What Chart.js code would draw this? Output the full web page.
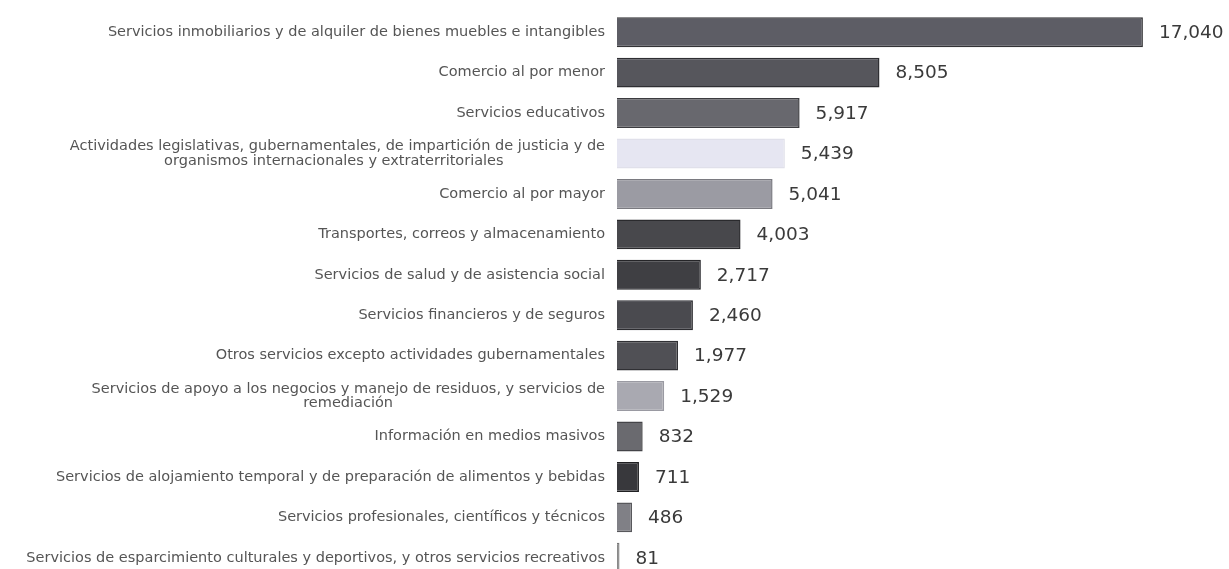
<!DOCTYPE html>
<html>
<head>
<meta charset="utf-8">
<script src="https://cdn.jsdelivr.net/npm/chart.js@4.4.1/dist/chart.umd.min.js"></script>
<style>
    html, body { margin: 0; padding: 0; background: #fff; overflow: hidden; }
    canvas { display: block; }
</style>
</head>
<body>
<canvas id="myChart" width="1229" height="582"></canvas>
<script>
const sectores = [
    "Servicios inmobiliarios y de alquiler de bienes muebles e intangibles",
    "Comercio al por menor",
    "Servicios educativos",
    ["Actividades legislativas, gubernamentales, de impartición de justicia y de", "organismos internacionales y extraterritoriales"],
    "Comercio al por mayor",
    "Transportes, correos y almacenamiento",
    "Servicios de salud y de asistencia social",
    "Servicios financieros y de seguros",
    "Otros servicios excepto actividades gubernamentales",
    ["Servicios de apoyo a los negocios y manejo de residuos, y servicios de", "remediación"],
    "Información en medios masivos",
    "Servicios de alojamiento temporal y de preparación de alimentos y bebidas",
    "Servicios profesionales, científicos y técnicos",
    "Servicios de esparcimiento culturales y deportivos, y otros servicios recreativos"
];
const valores = [17040, 8505, 5917, 5439, 5041, 4003, 2717, 2460, 1977, 1529, 832, 711, 486, 81];
const colores = ["#5d5d65", "#56565c", "#68686e", "#e6e6f2", "#9b9ba3", "#48484c", "#3f3f43",
                 "#4a4a4f", "#505055", "#a9a9b1", "#6a6a6f", "#38383c", "#808086", "#8a8a8a"];
const bordes = ["#333336", "#2f2f33", "#3c3c40", "#e0e0ea", "#7a7a80", "#2a2a2d", "#252528",
                "#2c2c30", "#303034", "#9a9aa2", "#444448", "#202022", "#58585c", "#777777"];

const labelFont = "14.5px 'DejaVu Sans'";

// second line of a two-line label is centered under the first one
const measureCtx = document.createElement('canvas').getContext('2d');
measureCtx.font = labelFont;
function centrar(lines) {
    if (!Array.isArray(lines)) return lines;
    const w0 = measureCtx.measureText(lines[0]).width;
    let second = lines[1];
    while (measureCtx.measureText(second).width < (w0 + measureCtx.measureText(lines[1]).width) / 2) {
        second = second + ' ';
    }
    return [lines[0], second];
}

const valueLabels = {
    id: 'valueLabels',
    afterDatasetsDraw(chart) {
        const ctx = chart.ctx;
        const meta = chart.getDatasetMeta(0);
        ctx.save();
        ctx.font = "18.5px 'DejaVu Sans'";
        ctx.fillStyle = '#3a3a3a';
        ctx.textAlign = 'left';
        ctx.textBaseline = 'middle';
        meta.data.forEach(function (bar, i) {
            ctx.fillText(valores[i].toLocaleString('en-US'), bar.x + 16, bar.y + 1);
        });
        ctx.restore();
    }
};

const ctx = document.getElementById('myChart').getContext('2d');
const myChart = new Chart(ctx, {
    type: 'bar',
    data: {
        labels: sectores.map(centrar),
        datasets: [{
            data: valores,
            backgroundColor: colores,
            borderColor: bordes,
            borderWidth: 1.5,
            barPercentage: 0.74,
            categoryPercentage: 1
        }]
    },
    options: {
        indexAxis: 'y',
        responsive: false,
        animation: false,
        layout: { padding: { top: 12, bottom: 4, right: 4, left: 0 } },
        plugins: {
            legend: { display: false },
            tooltip: { enabled: false }
        },
        scales: {
            x: {
                display: false,
                min: 0,
                max: 19700
            },
            y: {
                afterFit: function (scale) {
                    scale.width = 617;
                    scale.paddingTop = 0;
                    scale.paddingBottom = 0;
                },
                grid: { display: false, drawTicks: false },
                border: { display: false },
                ticks: {
                    padding: 12,
                    color: '#555',
                    font: { family: 'DejaVu Sans', size: 14.5, lineHeight: 1.0 },
                    autoSkip: false
                }
            }
        }
    },
    plugins: [valueLabels]
});
</script>
</body>
</html>
